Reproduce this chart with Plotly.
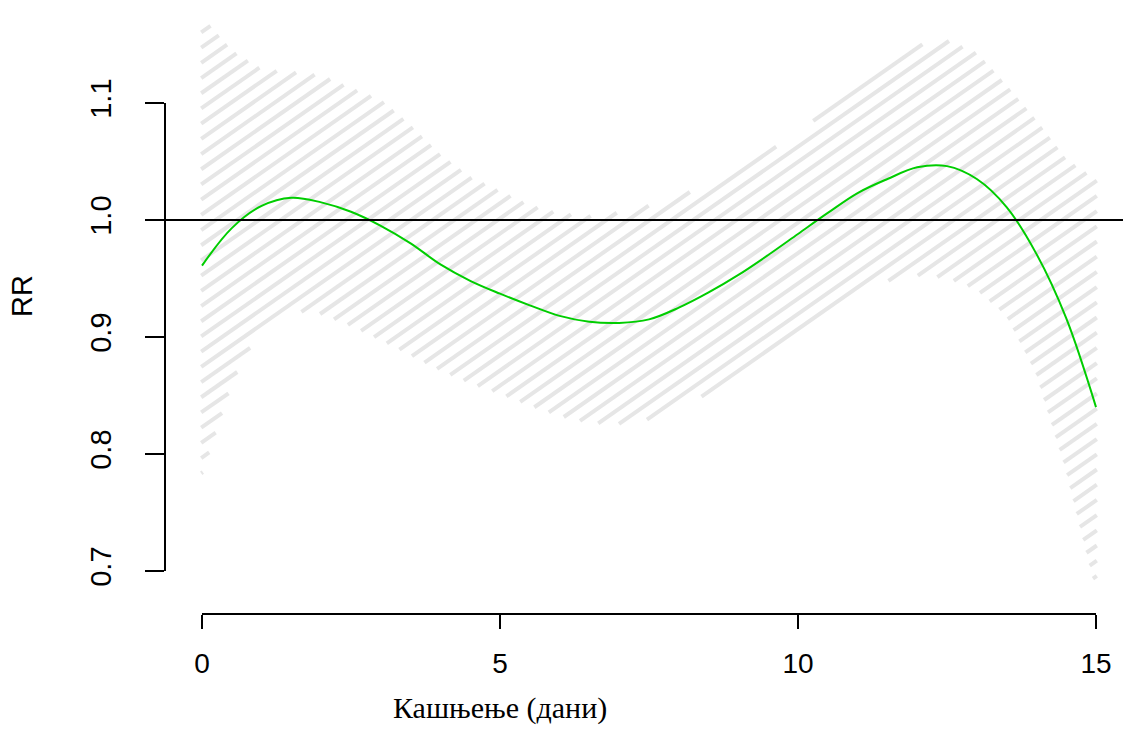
import numpy as np
import plotly.graph_objects as go

# Lag-response: relative risk with 95% confidence band
lag = [0.0, 0.5, 1.0, 1.5, 2.0, 2.5, 3.0, 3.5, 4.0, 4.5, 5.0, 5.5, 6.0, 6.5, 7.0, 7.5,
       8.0, 8.5, 9.0, 9.5, 10.0, 10.5, 11.0, 11.5, 12.0, 12.5, 13.0, 13.5, 14.0, 14.5, 15.0]
rr = [0.961, 0.993, 1.012, 1.019, 1.015, 1.007, 0.995, 0.980, 0.962, 0.948, 0.937, 0.927,
      0.918, 0.913, 0.912, 0.915, 0.925, 0.938, 0.953, 0.970, 0.988, 1.006, 1.023, 1.035,
      1.045, 1.046, 1.035, 1.011, 0.971, 0.916, 0.840]
rr_low = [0.784, 0.862, 0.910, 0.923, 0.920, 0.910, 0.898, 0.885, 0.872, 0.861, 0.852, 0.842,
          0.833, 0.827, 0.826, 0.830, 0.840, 0.852, 0.867, 0.884, 0.903, 0.921, 0.937, 0.948,
          0.953, 0.951, 0.941, 0.919, 0.870, 0.788, 0.686]
rr_high = [1.173, 1.144, 1.128, 1.126, 1.123, 1.112, 1.102, 1.080, 1.055, 1.036, 1.024, 1.012,
           1.005, 1.003, 1.006, 1.012, 1.020, 1.030, 1.043, 1.058, 1.075, 1.094, 1.112, 1.131,
           1.149, 1.153, 1.142, 1.114, 1.084, 1.051, 1.034]

x_ticks = [0, 5, 10, 15]
y_ticks = [0.7, 0.8, 0.9, 1.0, 1.1]
y_ticktext = ["0.7", "0.8", "0.9", "1.0", "1.1"]
reference_rr = 1.0

# Page geometry
FIG_W, FIG_H = 1123, 729
M_L, M_R, M_T, M_B = 165, 0, 0, 115
X_RANGE = [-0.621, 15.453]
Y_RANGE = [0.6632, 1.188]

# Hatching of the confidence band (slope and gap measured in screen pixels)
HATCH_SLOPE_PX = 0.70
HATCH_GAP_PX = 15.2
HATCH_WIDTH = 4
HATCH_COLOR = "#E6E6E6"

px_per_x = (FIG_W - M_L - M_R) / (X_RANGE[1] - X_RANGE[0])
px_per_y = (FIG_H - M_T - M_B) / (Y_RANGE[1] - Y_RANGE[0])
slope = HATCH_SLOPE_PX * px_per_x / px_per_y
gap = HATCH_GAP_PX / px_per_y
cap_dx = (HATCH_WIDTH / 2) / np.hypot(px_per_x, HATCH_SLOPE_PX * px_per_x)

lag_arr = np.asarray(lag)
xs = np.linspace(lag_arr[0], lag_arr[-1], 8001)
lo = np.interp(xs, lag_arr, rr_low)
hi = np.interp(xs, lag_arr, rr_high)

c0 = 0.784
k_min = int(np.floor((lo.min() - slope * xs[-1] - c0) / gap)) - 1
k_max = int(np.ceil((hi.max() - c0) / gap)) + 1
hx, hy = [], []
for k in range(k_min, k_max + 1):
    c = c0 + k * gap
    yl = c + slope * xs
    inside = (yl >= lo) & (yl <= hi)
    if not inside.any():
        continue
    d = np.diff(np.concatenate([[0], inside.astype(int), [0]]))
    starts = np.where(d == 1)[0]
    ends = np.where(d == -1)[0] - 1
    for i0, i1 in zip(starts, ends):
        xa = xs[i0] - cap_dx * 0.5
        xb = xs[i1] + cap_dx * 0.5
        hx += [xa, xb, None]
        hy += [c + slope * xa, c + slope * xb, None]

fig = go.Figure()
fig.add_trace(go.Scatter(x=hx, y=hy, mode="lines",
                         line=dict(color=HATCH_COLOR, width=HATCH_WIDTH),
                         hoverinfo="skip", showlegend=False))
fig.add_trace(go.Scatter(x=lag, y=rr, mode="lines",
                         line=dict(color="#00CD00", width=2, shape="spline"),
                         showlegend=False))

# reference line and the two axis lines spanning first to last tick
fig.add_shape(type="line", xref="paper", yref="y", x0=0, x1=1,
              y0=reference_rr, y1=reference_rr, line=dict(color="black", width=2))
fig.add_shape(type="line", xref="x", yref="paper", x0=x_ticks[0], x1=x_ticks[-1],
              y0=0, y1=0, line=dict(color="black", width=2))
fig.add_shape(type="line", xref="paper", yref="y", x0=0, x1=0,
              y0=y_ticks[0], y1=y_ticks[-1], line=dict(color="black", width=2))

sans = "Liberation Sans, Arial, sans-serif"
fig.update_xaxes(range=X_RANGE, tickvals=x_ticks, ticks="outside", ticklen=14,
                 tickwidth=2, tickcolor="black", showgrid=False, zeroline=False,
                 showline=False, tickfont=dict(family=sans, size=28, color="black"),
                 ticklabelstandoff=10)
fig.update_yaxes(range=Y_RANGE, tickvals=y_ticks, ticktext=y_ticktext, ticks="outside",
                 ticklen=19, tickwidth=2, tickcolor="black", showgrid=False,
                 zeroline=False, showline=False, tickangle=-90,
                 tickfont=dict(family=sans, size=29, color="black"),
                 ticklabelstandoff=22)

fig.add_annotation(text="Кашњење (дани)", xref="paper", yref="paper",
                   x=(500 - M_L) / (FIG_W - M_L - M_R), y=-(708 - (FIG_H - M_B)) / (FIG_H - M_T - M_B),
                   showarrow=False, xanchor="center", yanchor="middle",
                   font=dict(family="Liberation Serif, Times New Roman, serif", size=30, color="black"))
fig.add_annotation(text="RR", xref="paper", yref="paper",
                   x=-(M_L - 22) / (FIG_W - M_L - M_R), y=1 - (296 - M_T) / (FIG_H - M_T - M_B),
                   showarrow=False, textangle=-90, xanchor="center", yanchor="middle",
                   font=dict(family=sans, size=29, color="black"))

fig.update_layout(width=FIG_W, height=FIG_H, autosize=False,
                  margin=dict(l=M_L, r=M_R, t=M_T, b=M_B),
                  plot_bgcolor="white", paper_bgcolor="white")

fig.write_html("out.html")
